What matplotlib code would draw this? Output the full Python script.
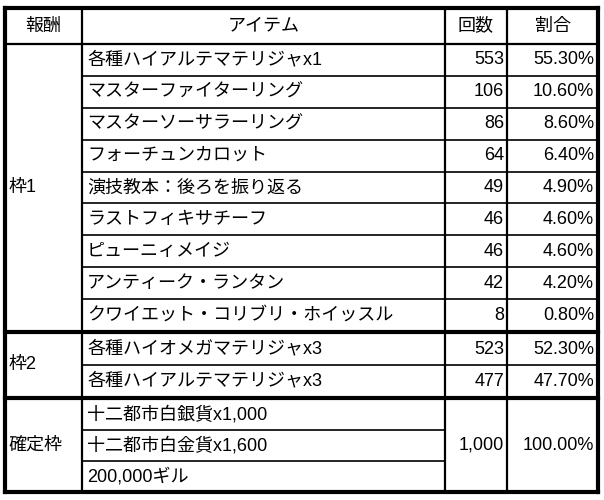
import matplotlib
matplotlib.use("Agg")
import matplotlib.pyplot as plt

plt.rcParams['font.family'] = ['Liberation Sans', 'Noto Sans CJK JP', 'DejaVu Sans']

headers = ["報酬", "アイテム", "回数", "割合"]
groups = ["枠1", "枠2", "確定枠"]
items1 = ["各種ハイアルテマテリジャx1", "マスターファイターリング", "マスターソーサラーリング",
          "フォーチュンカロット", "演技教本：後ろを振り返る", "ラストフィキサチーフ",
          "ピューニィメイジ", "アンティーク・ランタン", "クワイエット・コリブリ・ホイッスル"]
counts1 = ["553", "106", "86", "64", "49", "46", "46", "42", "8"]
pcts1 = ["55.30%", "10.60%", "8.60%", "6.40%", "4.90%", "4.60%", "4.60%", "4.20%", "0.80%"]
items2 = ["各種ハイオメガマテリジャx3", "各種ハイアルテマテリジャx3"]
counts2 = ["523", "477"]
pcts2 = ["52.30%", "47.70%"]
items3 = ["十二都市白銀貨x1,000", "十二都市白金貨x1,600", "200,000ギル"]
count3 = "1,000"
pct3 = "100.00%"

fig = plt.figure(figsize=(6.04, 5.0), dpi=100)
ax = fig.add_axes([0, 0, 1, 1])
ax.set_xlim(0, 604)
ax.set_ylim(500, 0)
ax.axis('off')

X0, X1, X2, X3, X4 = 5, 82, 445, 507, 598
fs = 13

def hline(y, x0, x1, lw=1.2):
    ax.plot([x0, x1], [y, y], color='black', lw=lw, solid_capstyle='projecting')

def vline(x, y0, y1, lw=1.2):
    ax.plot([x, x], [y0, y1], color='black', lw=lw, solid_capstyle='projecting')

Y_H0, Y_H1 = 8, 44
for txt, a, b in zip(headers, [X0, X1, X2, X3], [X1, X2, X3, X4]):
    ax.text((a + b) / 2, (Y_H0 + Y_H1) / 2, txt, ha='center', va='center', fontsize=fs)

def group(label, items, counts, pcts, y0, y1, merged=False):
    n = len(items)
    h = (y1 - y0) / n
    ax.text(X0 + 4, (y0 + y1) / 2, label, ha='left', va='center', fontsize=fs)
    for i, it in enumerate(items):
        c = y0 + h * (i + 0.5)
        ax.text(X1 + 5, c, it, ha='left', va='center', fontsize=fs)
        if not merged:
            ax.text(X3 - 3, c, counts[i], ha='right', va='center', fontsize=fs)
            ax.text(X4 - 4, c, pcts[i], ha='right', va='center', fontsize=fs)
        if i > 0:
            hline(y0 + h * i, X1, X2 if merged else X4)
    if merged:
        ax.text(X3 - 3, (y0 + y1) / 2, counts, ha='right', va='center', fontsize=fs)
        ax.text(X4 - 4, (y0 + y1) / 2, pcts, ha='right', va='center', fontsize=fs)

group(groups[0], items1, counts1, pcts1, 44, 331)
group(groups[1], items2, counts2, pcts2, 333, 397)
group(groups[2], items3, count3, pct3, 399, 492, merged=True)

hline(Y_H1, X0, X4, 1.6)
hline(332, X0, X4, 3)
hline(398, X0, X4, 3)
for x in (X1, X2, X3):
    vline(x, Y_H0, 492, 1.6)
hline(Y_H0, X0, X4, 3)
hline(492, X0, X4, 3)
vline(X0, Y_H0, 492, 3)
vline(X4, Y_H0, 492, 3)

fig.savefig("out.png", dpi=100, facecolor='white')
